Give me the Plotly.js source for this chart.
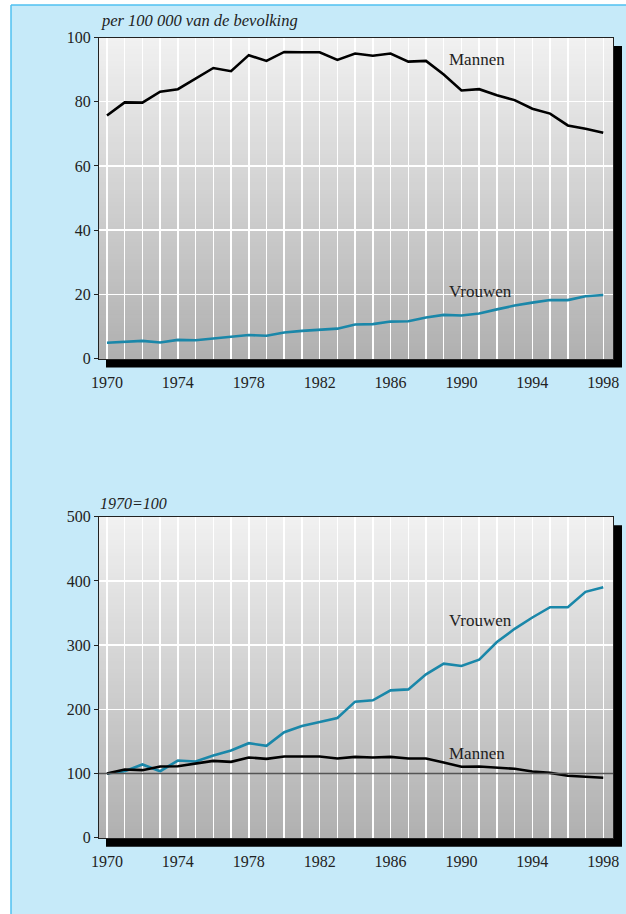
<!DOCTYPE html>
<html><head><meta charset="utf-8">
<script src="https://cdn.plot.ly/plotly-3.0.1.min.js"></script>
<style>html,body{margin:0;padding:0;background:#fff}#chart{width:626px;height:914px}</style>
</head><body><div id="chart"></div>
<script>
// ---- data ----
const years = [1970,1971,1972,1973,1974,1975,1976,1977,1978,1979,1980,1981,1982,1983,1984,1985,1986,1987,1988,1989,1990,1991,1992,1993,1994,1995,1996,1997,1998];
const mannenRate = [75.7,79.8,79.7,83.1,83.9,87.2,90.5,89.5,94.5,92.7,95.5,95.4,95.4,93.0,95.0,94.3,95.0,92.5,92.7,88.5,83.5,83.9,82.0,80.5,77.8,76.3,72.6,71.6,70.3];
const vrouwenRate = [4.9,5.1,5.5,5.0,5.8,5.7,6.3,6.7,7.3,7.1,8.1,8.6,9.0,9.3,10.6,10.7,11.5,11.6,12.8,13.6,13.4,14.0,15.3,16.5,17.4,18.2,18.2,19.4,19.8];
const mannenIndex = [100,106.2,105.2,110.9,111.4,116,119.7,118.1,124.9,122.8,126.4,126.4,126.4,123.3,125.9,124.9,125.9,123.3,123.3,117.1,110.4,110.9,108.8,107.3,103.1,101,96.4,94.8,93.3];
const vrouwenIndex = [100,103.6,114,103.6,120.2,118.7,128,135.8,147.2,143,164.2,174,180.3,186.5,211.9,214,229.5,231,254.4,271,267.4,277.2,304.7,325.4,343,359,359,383,390];
const xTickVals = [1970,1974,1978,1982,1986,1990,1994,1998];
const xTickText = ['1970','1974','1978','1982','1986','1990','1994','1998'];
const yTopTicks = [0,20,40,60,80,100];
const yBottomTicks = [0,100,200,300,400,500];
const seriesNames = ['Mannen','Vrouwen'];
const topUnit = 'per 100 000 van de bevolking';
const bottomUnit = '1970=100';
const baseIndex = 100;

// ---- layout helpers ----
const W = 626, H = 914;
const px = x => x / W;
const py = y => 1 - y / H;
const FONT = 'Liberation Serif, Times New Roman, serif';
const BLUE = '#1a87a9';
const plotL = 99, plotR = 613;
const topPlot = {t: 37.5, b: 358.5};
const botPlot = {t: 516.7, b: 837.7};

const shapes = [];
// light blue panel
shapes.push({type:'rect', xref:'paper', yref:'paper', x0:px(11), x1:1, y0:0, y1:py(5), fillcolor:'#c6eaf9', line:{width:0}, layer:'below'});
shapes.push({type:'line', xref:'paper', yref:'paper', x0:px(11), x1:1, y0:py(5), y1:py(5), line:{color:'#4fc1f0', width:1.5}, layer:'below'});
shapes.push({type:'line', xref:'paper', yref:'paper', x0:px(11), x1:px(11), y0:0, y1:py(5), line:{color:'#4fc1f0', width:1.5}, layer:'below'});

function panelBackground(p) {
  // drop shadow
  shapes.push({type:'rect', xref:'paper', yref:'paper', x0:px(plotL+7), x1:px(plotR+9), y0:py(p.b+9), y1:py(p.t+8.5), fillcolor:'#000', line:{width:0}, layer:'below'});
  // vertical gradient: each strip runs to the bottom, later strips cover earlier ones
  const N = 80;
  const h = (p.b - p.t) / N;
  for (let i = 0; i < N; i++) {
    const f = (i + 0.5) / N;
    const c = Math.round(241 - f * (241 - 176));
    shapes.push({type:'rect', xref:'paper', yref:'paper', x0:px(plotL), x1:px(plotR),
      y0:py(p.b), y1:py(p.t + i * h), fillcolor:`rgb(${c},${c},${c})`, line:{width:0}, layer:'below'});
  }
}
panelBackground(topPlot);
panelBackground(botPlot);
// reference line at index 100
shapes.push({type:'line', xref:'paper', yref:'y2', x0:px(plotL), x1:px(plotR), y0:baseIndex, y1:baseIndex, line:{color:'#555', width:1.5}, layer:'above'});

const traces = [
  {x: years, y: mannenRate, name: seriesNames[0], xaxis:'x', yaxis:'y', mode:'lines', line:{color:'#000', width:2.6}},
  {x: years, y: vrouwenRate, name: seriesNames[1], xaxis:'x', yaxis:'y', mode:'lines', line:{color:BLUE, width:2.6}},
  {x: years, y: vrouwenIndex, name: seriesNames[1], xaxis:'x2', yaxis:'y2', mode:'lines', line:{color:BLUE, width:2.6}},
  {x: years, y: mannenIndex, name: seriesNames[0], xaxis:'x2', yaxis:'y2', mode:'lines', line:{color:'#000', width:2.6}}
];

function xAxis(anchor) {
  return {
    domain:[px(plotL), px(plotR)], anchor, range:[1969.55, 1998.55],
    tickvals:xTickVals, ticktext:xTickText, ticks:'outside', ticklen:9, tickcolor:'rgba(0,0,0,0)',
    tickfont:{family:FONT, size:16, color:'#222'},
    showgrid:true, gridcolor:'#ffffff', gridwidth:1.5,
    minor:{dtick:1, tick0:1970, showgrid:true, gridcolor:'#ffffff', gridwidth:1.5, ticks:''},
    showline:true, linecolor:'#222', linewidth:1, mirror:true, zeroline:false, fixedrange:true
  };
}
function yAxis(anchor, p, range, ticks) {
  return {
    domain:[py(p.b), py(p.t)], anchor, range, tickvals:ticks,
    ticks:'outside', ticklen:4, tickcolor:'#222', tickwidth:1,
    tickfont:{family:FONT, size:16, color:'#222'},
    showgrid:true, gridcolor:'#ffffff', gridwidth:1.5,
    showline:true, linecolor:'#222', linewidth:1, mirror:true, zeroline:false, fixedrange:true
  };
}

const annFont = {family:FONT, size:17, color:'#222'};
const layout = {
  width:W, height:H, margin:{l:0, r:0, t:0, b:0},
  paper_bgcolor:'#ffffff', plot_bgcolor:'rgba(0,0,0,0)', showlegend:false,
  xaxis: xAxis('y'), yaxis: yAxis('x', topPlot, [0,100], yTopTicks),
  xaxis2: xAxis('y2'), yaxis2: yAxis('x2', botPlot, [0,500], yBottomTicks),
  shapes,
  annotations: [
    {xref:'paper', yref:'paper', x:px(99), y:py(32), xanchor:'left', yanchor:'bottom', showarrow:false,
     text:'<i>' + topUnit + '</i>', font:{family:FONT, size:16.5, color:'#222'}},
    {xref:'paper', yref:'paper', x:px(98), y:py(513.5), xanchor:'left', yanchor:'bottom', showarrow:false,
     text:'<i>' + bottomUnit + '</i>', font:{family:FONT, size:16, color:'#222'}},
    {xref:'x', yref:'y', x:1989.2, y:93.2, xanchor:'left', yanchor:'middle', showarrow:false, text:seriesNames[0], font:annFont},
    {xref:'x', yref:'y', x:1989.2, y:20.8, xanchor:'left', yanchor:'middle', showarrow:false, text:seriesNames[1], font:annFont},
    {xref:'x2', yref:'y2', x:1989.2, y:339, xanchor:'left', yanchor:'middle', showarrow:false, text:seriesNames[1], font:annFont},
    {xref:'x2', yref:'y2', x:1989.2, y:131.5, xanchor:'left', yanchor:'middle', showarrow:false, text:seriesNames[0], font:annFont}
  ]
};

Plotly.newPlot('chart', traces, layout, {staticPlot:true, displayModeBar:false});
</script>
</body></html>
